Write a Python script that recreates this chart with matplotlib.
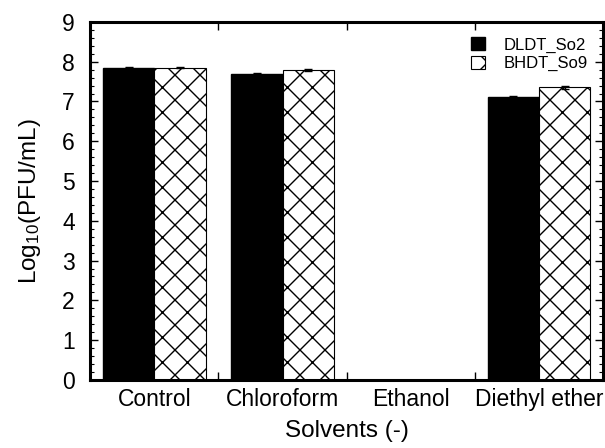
import numpy as np
import matplotlib
matplotlib.use('Agg')
import matplotlib.pyplot as plt
from matplotlib.ticker import MultipleLocator, FixedLocator
from matplotlib.backend_bases import GraphicsContextBase

plt.rcParams['font.family'] = ['Liberation Sans', 'DejaVu Sans']
plt.rcParams['mathtext.fontset'] = 'custom'
plt.rcParams['mathtext.rm'] = 'Liberation Sans'
plt.rcParams['mathtext.it'] = 'Liberation Sans'
plt.rcParams['hatch.linewidth'] = 1.0

# coarser cross hatch than matplotlib's default density
_orig_hatch = GraphicsContextBase.get_hatch_path
GraphicsContextBase.get_hatch_path = lambda self, density=8: _orig_hatch(self, 8)

solvents = ['Control', 'Chloroform', 'Ethanol', 'Diethyl ether']
dldt = [7.85, 7.70, 0.0, 7.11]
dldt_err = [0.02, 0.02, 0.0, 0.02]
bhdt = [7.85, 7.79, 0.0, 7.36]
bhdt_err = [0.02, 0.02, 0.0, 0.04]
series_names = ['DLDT_So2', 'BHDT_So9']

fig = plt.figure(figsize=(6.05, 4.48), dpi=100)
ax = fig.add_axes([0.149, 0.152, 0.848, 0.799])

x = np.arange(len(solvents))
w = 0.4
ax.bar(x - w/2, dldt, w, yerr=dldt_err, color='black', edgecolor='black',
       capsize=3, error_kw=dict(elinewidth=1, capthick=1), label=series_names[0])
ax.bar(x + w/2, bhdt, w, yerr=bhdt_err, color='white', edgecolor='black',
       hatch='x', linewidth=0.8, capsize=3,
       error_kw=dict(elinewidth=1, capthick=1), label=series_names[1])

ax.set_xlim(-0.5, 3.5)
ax.set_ylim(0, 9)
ax.set_xticks(x)
ax.set_xticklabels(solvents)
ax.xaxis.set_minor_locator(FixedLocator([0.5, 1.5, 2.5]))
ax.yaxis.set_major_locator(MultipleLocator(1))
ax.yaxis.set_minor_locator(MultipleLocator(0.2))

ax.tick_params(axis='x', which='major', length=0, labelsize=16.5, pad=6)
ax.tick_params(axis='x', which='minor', direction='in', top=True, bottom=True, length=6, width=1)
ax.tick_params(axis='y', which='major', direction='in', left=True, right=True, length=6, width=1,
               labelsize=16.5, pad=11)
ax.tick_params(axis='y', which='minor', direction='in', left=True, right=True, length=3, width=0.8)

for s in ax.spines.values():
    s.set_linewidth(2.2)

ax.set_xlabel('Solvents (-)', fontsize=17.5, labelpad=6)
ax.set_ylabel('Log$_{10}$(PFU/mL)', fontsize=17.5, labelpad=14)

ax.legend(loc='upper right', frameon=False, fontsize=12, handlelength=0.85,
          handleheight=0.85, handletextpad=1.15, labelspacing=0.2,
          bbox_to_anchor=(1.0, 1.0))

fig.savefig('out.png', dpi=100)
